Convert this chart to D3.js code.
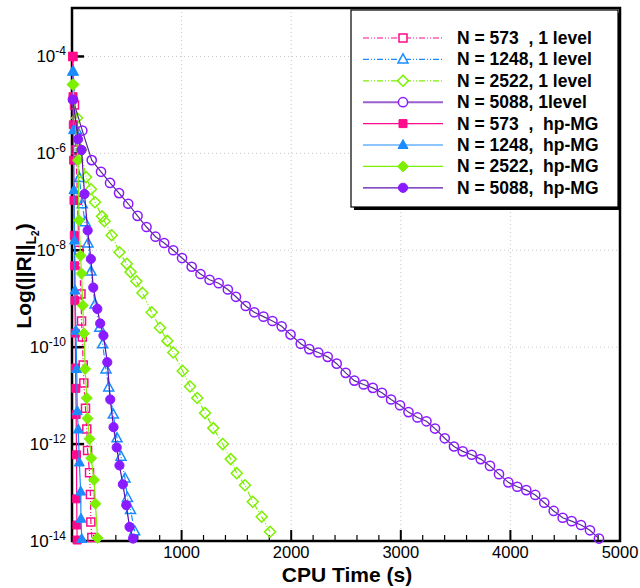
<!DOCTYPE html>
<html>
<head>
<meta charset="utf-8">
<script src="https://cdn.jsdelivr.net/npm/d3@7"></script>
<style>
  body { margin: 0; background: white; }
  text { font-family: "Liberation Sans", Arial, sans-serif; }
</style>
</head>
<body>
<div id="container"></div>
<script>
let w = 640;
let h = 588;

// DATA: CPU time (s) and log10 of the L2 residual
let t573_1 = [9, 23, 36, 50, 64, 82, 87, 94, 102, 108, 123, 135, 142, 160, 168, 172, 181];
let lg573_1 = [-4.00, -5.00, -5.93, -6.97, -8.00, -8.90, -9.46, -9.79, -10.37, -10.74, -11.26, -11.69, -12.13, -12.59, -13.04, -13.61, -13.93];

let t1248_1 = [9, 41, 68, 94, 119, 146, 173, 210, 253, 280, 310, 335, 377, 411, 447, 484, 506, 534, 572];
let lg1248_1 = [-4.31, -5.52, -6.51, -7.05, -7.42, -7.86, -8.44, -9.12, -9.60, -9.94, -10.46, -10.83, -11.39, -11.88, -12.26, -12.71, -13.11, -13.36, -13.80];

let t2522_1 = [9, 46, 82, 128, 173, 210, 274, 297, 362, 433, 499, 534, 587, 643, 727, 803, 870, 924, 1010, 1077, 1143, 1214, 1289, 1375, 1448, 1503, 1578, 1649, 1731, 1807];
let lg2522_1 = [-4.58, -5.27, -5.93, -6.49, -6.74, -7.01, -7.30, -7.40, -7.69, -8.04, -8.28, -8.45, -8.64, -8.88, -9.28, -9.60, -9.87, -10.11, -10.49, -10.81, -11.05, -11.36, -11.67, -12.00, -12.31, -12.60, -12.85, -13.19, -13.50, -13.81];

let t5088_1 = [9, 94, 180, 265, 347, 429, 513, 598, 680, 762, 841, 924, 1004, 1092, 1172, 1255, 1338, 1422, 1496, 1585,
  1663, 1747, 1829, 1913, 1994, 2087, 2165, 2247, 2333, 2415, 2497, 2576, 2661, 2744, 2828, 2911, 2993, 3070, 3152, 3234,
  3312, 3401, 3485, 3565, 3647, 3729, 3814, 3896, 3981, 4063, 4145, 4227, 4309, 4395, 4477, 4559, 4644, 4726, 4808];
let lg5088_1 = [-4.89, -5.53, -6.14, -6.38, -6.61, -6.82, -7.04, -7.29, -7.52, -7.72, -7.85, -8.00, -8.16, -8.34, -8.49, -8.61, -8.68, -8.81, -8.96, -9.15,
  -9.28, -9.37, -9.46, -9.57, -9.74, -9.93, -10.04, -10.11, -10.20, -10.34, -10.53, -10.69, -10.77, -10.84, -10.94, -11.08, -11.20, -11.34, -11.45, -11.53,
  -11.68, -11.88, -12.05, -12.15, -12.22, -12.31, -12.45, -12.62, -12.79, -12.88, -12.95, -13.05, -13.21, -13.38, -13.52, -13.59, -13.67, -13.78, -13.95];

let t573_mg = [5, 9, 12, 15, 18, 21, 24, 27, 30, 32, 35, 38, 41, 43, 45, 47];
let lg573_mg = [-4.00, -4.83, -5.41, -6.14, -6.97, -7.69, -8.32, -9.04, -9.71, -10.43, -10.85, -11.39, -12.22, -13.13, -13.67, -13.98];

let t1248_mg = [9, 14, 18, 23, 27, 36, 43, 48, 57, 67, 79, 82, 89];
let lg1248_mg = [-4.31, -5.52, -6.76, -7.80, -8.83, -9.66, -10.45, -11.32, -11.70, -12.38, -12.98, -13.54, -13.96];

let t2522_mg = [9, 55, 64, 78, 87, 98, 109, 120, 135, 142, 160, 175, 201, 214, 233];
let lg2522_mg = [-4.58, -6.14, -7.38, -8.11, -8.48, -9.14, -9.72, -10.45, -11.05, -11.47, -11.89, -12.29, -12.74, -13.23, -13.94];

let t5088_mg = [9, 55, 87, 114, 143, 172, 194, 231, 257, 287, 322, 349, 379, 408, 433, 464, 495, 525, 557];
let lg5088_mg = [-4.89, -5.71, -5.93, -6.84, -7.59, -8.18, -8.77, -9.21, -9.51, -9.76, -10.31, -11.08, -11.65, -12.07, -12.44, -12.83, -13.26, -13.71, -13.95];

let labels = ["N = 573  , 1 level", "N = 1248, 1 level", "N = 2522, 1 level", "N = 5088, 1level",
  "N = 573  ,  hp-MG", "N = 1248,  hp-MG", "N = 2522,  hp-MG", "N = 5088,  hp-MG"];

let xTicks = [1000, 2000, 3000, 4000, 5000];
let yTickExps = [-4, -6, -8, -10, -12, -14];

// styles for each series
let pink = "#ff0a8c", blue = "#1a8cff", green = "#7cf000", violet = "#8a1aff";
let series = [
  {t: t573_1, lg: lg573_1, color: pink, line: pink, dash: "6,2,1,2,1,2", shape: "square", fill: false},
  {t: t1248_1, lg: lg1248_1, color: blue, line: blue, dash: "6,2,1,2,1,2", shape: "triangle", fill: false},
  {t: t2522_1, lg: lg2522_1, color: green, line: green, dash: "6,2,1,2,1,2", shape: "diamond", fill: false},
  {t: t5088_1, lg: lg5088_1, color: violet, line: "#5a2d8c", dash: null, shape: "circle", fill: false},
  {t: t573_mg, lg: lg573_mg, color: pink, line: pink, dash: null, shape: "square", fill: true},
  {t: t1248_mg, lg: lg1248_mg, color: blue, line: blue, dash: null, shape: "triangle", fill: true},
  {t: t2522_mg, lg: lg2522_mg, color: green, line: green, dash: null, shape: "diamond", fill: true},
  {t: t5088_mg, lg: lg5088_mg, color: violet, line: "#5c10b0", dash: null, shape: "circle", fill: true}
];

let pLeft = 72, pRight = 620, pTop = 8, pBottom = 541;

let viz = d3.select("#container").append("svg")
  .attr("width", w)
  .attr("height", h)
  .style("background-color", "white");

let xScale = d3.scaleLinear().domain([0, 5000]).range([pLeft, pRight]);
let yScale = d3.scaleLog().domain([1e-14, 1e-3]).range([pBottom, pTop]);

// grid (dotted)
viz.selectAll(".gridY").data(yTickExps.filter(function(e){ return e > -14; })).enter()
  .append("line")
    .attr("x1", pLeft).attr("x2", pRight)
    .attr("y1", function(d){ return yScale(Math.pow(10, d)); })
    .attr("y2", function(d){ return yScale(Math.pow(10, d)); })
    .attr("stroke", "#c8c8c8").attr("stroke-dasharray", "1,3");
viz.selectAll(".gridX").data(xTicks.filter(function(d){ return d < 5000; })).enter()
  .append("line")
    .attr("y1", pTop).attr("y2", pBottom)
    .attr("x1", function(d){ return xScale(d); })
    .attr("x2", function(d){ return xScale(d); })
    .attr("stroke", "#c8c8c8").attr("stroke-dasharray", "1,3");

// frame
viz.append("rect")
  .attr("x", pLeft).attr("y", pTop)
  .attr("width", pRight - pLeft).attr("height", pBottom - pTop)
  .attr("fill", "none").attr("stroke", "black").attr("stroke-width", 2.5);

// x ticks (major + minor)
let xMinor = d3.range(0, 5001, 200);
viz.selectAll(".xtick").data(xMinor).enter()
  .append("line")
    .attr("x1", function(d){ return xScale(d); })
    .attr("x2", function(d){ return xScale(d); })
    .attr("y1", pBottom)
    .attr("y2", function(d){ return d % 1000 == 0 ? pBottom - 11 : pBottom - 6; })
    .attr("stroke", "black")
    .attr("stroke-width", function(d){ return d % 1000 == 0 ? 2 : 1.2; });

viz.selectAll(".xlabel").data(xTicks).enter()
  .append("text")
    .attr("x", function(d){ return xScale(d); })
    .attr("y", 558)
    .attr("text-anchor", "middle")
    .attr("font-size", 16.5)
    .text(function(d){ return d; });

// y ticks
viz.selectAll(".ytick").data(yTickExps).enter()
  .append("line")
    .attr("x1", pLeft).attr("x2", pLeft + 12)
    .attr("y1", function(d){ return yScale(Math.pow(10, d)); })
    .attr("y2", function(d){ return yScale(Math.pow(10, d)); })
    .attr("stroke", "black").attr("stroke-width", 2.5);

let yLab = viz.selectAll(".ylabel").data(yTickExps).enter()
  .append("text")
    .attr("x", 66)
    .attr("y", function(d){ return yScale(Math.pow(10, d)) + 6; })
    .attr("text-anchor", "end")
    .attr("font-size", 17);
yLab.append("tspan").text("10");
yLab.append("tspan").attr("dy", -7).attr("font-size", 12).text(function(d){ return d; });

// axis titles
viz.append("text")
  .attr("x", 347).attr("y", 582)
  .attr("text-anchor", "middle")
  .attr("font-size", 21).attr("font-weight", "bold")
  .text("CPU Time (s)");

let yt = viz.append("text")
  .attr("transform", "translate(31,276) rotate(-90)")
  .attr("text-anchor", "middle")
  .attr("font-size", 21).attr("font-weight", "bold");
yt.append("tspan").text("Log(||R||");
yt.append("tspan").attr("font-size", 14).attr("dy", 5).text("L");
yt.append("tspan").attr("font-size", 10).attr("dy", 3).text("2");
yt.append("tspan").attr("dy", -8).text(")");

// marker shapes
function markerPath(shape, cx, cy){
  if(shape == "square"){
    let s = 4;
    return "M" + (cx - s) + "," + (cy - s) + "h" + (2*s) + "v" + (2*s) + "h" + (-2*s) + "Z";
  } else if(shape == "triangle"){
    return "M" + cx + "," + (cy - 5.5) + "L" + (cx + 5) + "," + (cy + 3.5) + "L" + (cx - 5) + "," + (cy + 3.5) + "Z";
  } else if(shape == "diamond"){
    return "M" + cx + "," + (cy - 5.5) + "L" + (cx + 5.5) + "," + cy + "L" + cx + "," + (cy + 5.5) + "L" + (cx - 5.5) + "," + cy + "Z";
  } else {
    let r = 4.6;
    return "M" + (cx - r) + "," + cy + "a" + r + "," + r + " 0 1,0 " + (2*r) + ",0a" + r + "," + r + " 0 1,0 " + (-2*r) + ",0Z";
  }
}

let lineMaker = d3.line()
  .x(function(d){ return xScale(d[0]); })
  .y(function(d){ return yScale(Math.pow(10, d[1])); });

series.forEach(function(s){
  let pts = s.t.map(function(t, i){ return [t, s.lg[i]]; });
  viz.append("path")
    .attr("d", lineMaker(pts))
    .attr("fill", "none")
    .attr("stroke", s.line)
    .attr("stroke-width", 1.2)
    .attr("stroke-dasharray", s.dash);
  viz.selectAll(null).data(pts).enter()
    .append("path")
      .attr("d", function(d){ return markerPath(s.shape, xScale(d[0]), yScale(Math.pow(10, d[1]))); })
      .attr("fill", s.fill ? s.color : "none")
      .attr("stroke", s.color)
      .attr("stroke-width", s.fill ? 1 : 1.5);
});

// legend
let lg = viz.append("g");
lg.append("rect")
  .attr("x", 354).attr("y", 13).attr("width", 267).attr("height", 197)
  .attr("fill", "black");
lg.append("rect")
  .attr("x", 351).attr("y", 10).attr("width", 267).attr("height", 197)
  .attr("fill", "white").attr("stroke", "black").attr("stroke-width", 1.2);

series.forEach(function(s, i){
  let y = 38 + i * 21.4;
  lg.append("line")
    .attr("x1", 363).attr("x2", 443)
    .attr("y1", y).attr("y2", y)
    .attr("stroke", i == 3 ? "#9a5fd0" : s.line)
    .attr("stroke-width", i == 3 ? 2 : 1.2)
    .attr("stroke-dasharray", s.dash);
  lg.append("path")
    .attr("d", markerPath(s.shape, 403, y))
    .attr("fill", s.fill ? s.color : "white")
    .attr("stroke", s.color)
    .attr("stroke-width", s.fill ? 1 : 1.5);
  lg.append("text")
    .attr("x", 457).attr("y", y + 6)
    .attr("font-size", 17.5).attr("font-weight", "bold")
    .attr("xml:space", "preserve")
    .style("white-space", "pre")
    .text(labels[i]);
});
</script>
</body>
</html>
